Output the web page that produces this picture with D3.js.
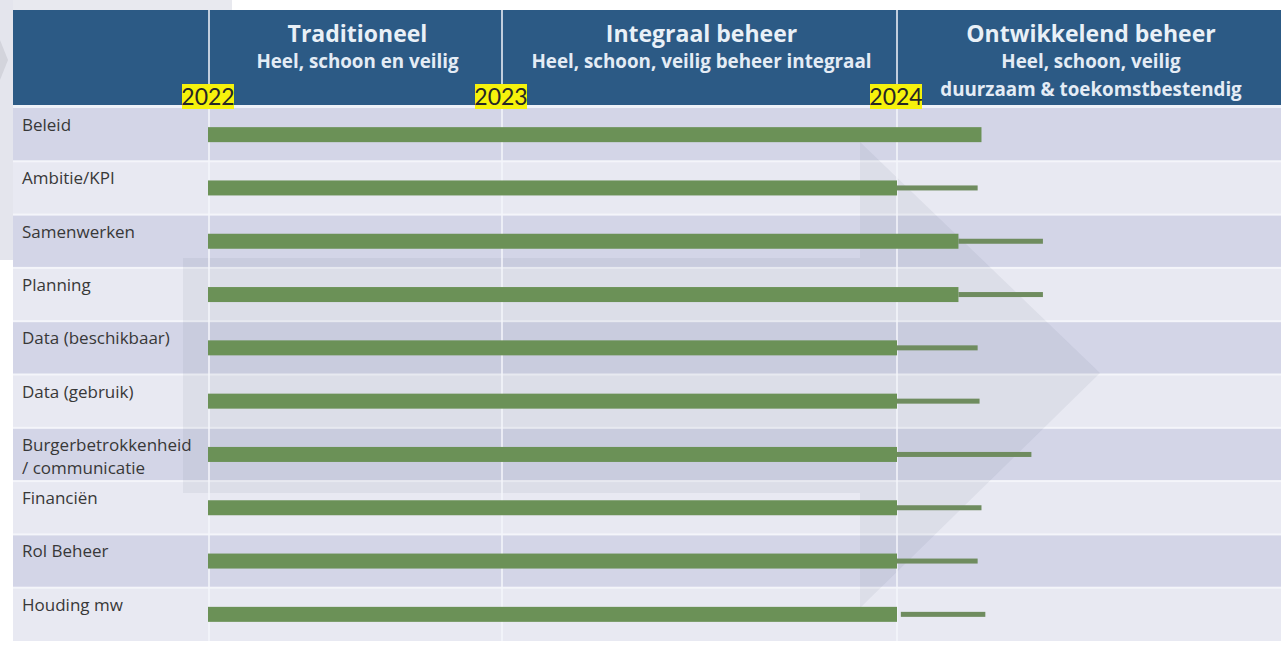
<!DOCTYPE html>
<html>
<head>
<meta charset="utf-8">
<script src="https://cdn.jsdelivr.net/npm/d3@7"></script>
<style>
  body { margin: 0; background: #ffffff; }
  svg { display: block; }
</style>
</head>
<body>
<svg width="1281" height="645"></svg>
<script>
// phases / years
var years = [2022, 2023, 2024];
var phaseTitles = ["Traditioneel", "Integraal beheer", "Ontwikkelend beheer"];
var phaseSubs = [
  ["Heel, schoon en veilig"],
  ["Heel, schoon, veilig beheer integraal"],
  ["Heel, schoon, veilig", "duurzaam & toekomstbestendig"]
];

// rows
var topics = ["Beleid", "Ambitie/KPI", "Samenwerken", "Planning", "Data (beschikbaar)",
  "Data (gebruik)", "Burgerbetrokkenheid\n/ communicatie", "Financiën", "Rol Beheer", "Houding mw"];
// end of the solid bar (in years, 2025 = end of last phase)
var doneEnd = [2024.22, 2024.0, 2024.16, 2024.16, 2024.0, 2024.0, 2024.0, 2024.0, 2024.0, 2024.0];
// the thin bar after it (start, end); null = none
var planStart = [null, 2024.0, 2024.16, 2024.16, 2024.0, 2024.0, 2024.0, 2024.0, 2024.0, 2024.01];
var planEnd = [null, 2024.21, 2024.38, 2024.38, 2024.21, 2024.215, 2024.35, 2024.22, 2024.21, 2024.23];

var svg = d3.select("svg"),
    left = 13,
    right = 1281,
    headTop = 10,
    headBottom = 105,
    bodyTop = 108,
    bodyBottom = 641;

var x = d3.scaleLinear()
    .domain([2022, 2023, 2024, 2025])
    .range([209, 502, 897, 1281]);

var y = d3.scaleBand()
    .domain(topics)
    .range([bodyTop, bodyBottom])
    .paddingInner(0);

var font = "'Open Sans', sans-serif";

// faint slide decoration at the left
svg.append("rect").attr("x", 0).attr("y", 0).attr("width", 232).attr("height", 10).attr("fill", "#e8e9ef");
svg.append("rect").attr("x", 0).attr("y", 0).attr("width", left).attr("height", 260).attr("fill", "#e4e5ed");
svg.append("path").attr("d", "M0,40 L8,60 L0,80 Z").attr("fill", "#d3d4dc");

// header
svg.append("rect")
    .attr("x", left).attr("y", headTop)
    .attr("width", right - left).attr("height", headBottom - headTop)
    .attr("fill", "#2c5a85");

// rows
svg.selectAll(".row")
    .data(topics)
    .enter()
    .append("rect")
    .attr("x", left)
    .attr("y", d => y(d))
    .attr("width", right - left)
    .attr("height", y.bandwidth())
    .attr("fill", (d, i) => i % 2 == 0 ? "#d3d5e7" : "#e8e9f2");

svg.selectAll(".rowline")
    .data(topics.slice(1))
    .enter()
    .append("rect")
    .attr("x", left)
    .attr("y", d => y(d) - 1)
    .attr("width", right - left)
    .attr("height", 2)
    .attr("fill", "#f4f5fa");

svg.append("rect").attr("x", left).attr("y", headBottom).attr("width", right - left)
    .attr("height", bodyTop - headBottom).attr("fill", "#eef1f8");

// big background arrow
svg.append("path")
    .attr("d", "M183,258 L860,258 L860,142 L1100,373 L860,608 L860,493 L183,493 Z")
    .attr("fill", "#4a5075")
    .attr("opacity", 0.07);

// phase dividers
svg.selectAll(".div")
    .data(years)
    .enter()
    .append("line")
    .attr("x1", d => x(d)).attr("x2", d => x(d))
    .attr("y1", headTop).attr("y2", bodyBottom)
    .attr("stroke", "#f4f6fb")
    .attr("stroke-width", 1.5);

// header titles
var mids = years.map(d => (x(d) + x(d + 1)) / 2);
svg.selectAll(".title")
    .data(phaseTitles)
    .enter()
    .append("text")
    .attr("x", (d, i) => mids[i] + 2)
    .attr("y", 42)
    .attr("text-anchor", "middle")
    .attr("font-family", font)
    .attr("font-weight", "bold")
    .attr("font-size", 23)
    .attr("fill", "#e9f0f7")
    .text(d => d);

phaseSubs.forEach(function(lines, i) {
  svg.selectAll(".sub" + i)
      .data(lines)
      .enter()
      .append("text")
      .attr("x", mids[i] + 2)
      .attr("y", (d, j) => 68 + j * 28)
      .attr("text-anchor", "middle")
      .attr("font-family", font)
      .attr("font-weight", "bold")
      .attr("font-size", 18.8)
      .attr("fill", "#e4ecf5")
      .text(d => d);
});

// year markers
var yearG = svg.selectAll(".year")
    .data(years)
    .enter()
    .append("g")
    .attr("transform", d => "translate(" + x(d) + ",0)");
yearG.append("rect")
    .attr("x", -27).attr("y", 84)
    .attr("width", 52).attr("height", 25)
    .attr("fill", "#f6f20c");
yearG.append("text")
    .attr("x", -1).attr("y", 105)
    .attr("text-anchor", "middle")
    .attr("font-family", "Lato, sans-serif")
    .attr("font-size", 23)
    .attr("fill", "#262626")
    .text(d => d);

// row labels
topics.forEach(function(t) {
  svg.selectAll(null)
      .data(t.split("\n"))
      .enter()
      .append("text")
      .attr("x", 22)
      .attr("y", (d, j) => y(t) + 23 + j * 23)
      .attr("font-family", font)
      .attr("font-size", 17)
      .attr("fill", "#383838")
      .text(d => d);
});

// thin bars
svg.selectAll(".plan")
    .data(topics.filter((d, i) => planEnd[i] != null))
    .enter()
    .append("rect")
    .attr("x", d => x(planStart[topics.indexOf(d)]))
    .attr("y", d => y(d) + y.bandwidth() / 2 - 2.5)
    .attr("width", d => x(planEnd[topics.indexOf(d)]) - x(planStart[topics.indexOf(d)]))
    .attr("height", 5)
    .attr("fill", "#6f8c5f");

// solid bars
svg.selectAll(".done")
    .data(topics)
    .enter()
    .append("rect")
    .attr("x", x(2022) - 1)
    .attr("y", d => y(d) + y.bandwidth() / 2 - 7.5)
    .attr("width", (d, i) => x(doneEnd[i]) - x(2022) + 1)
    .attr("height", 15)
    .attr("fill", "#6b9157");
</script>
</body>
</html>
